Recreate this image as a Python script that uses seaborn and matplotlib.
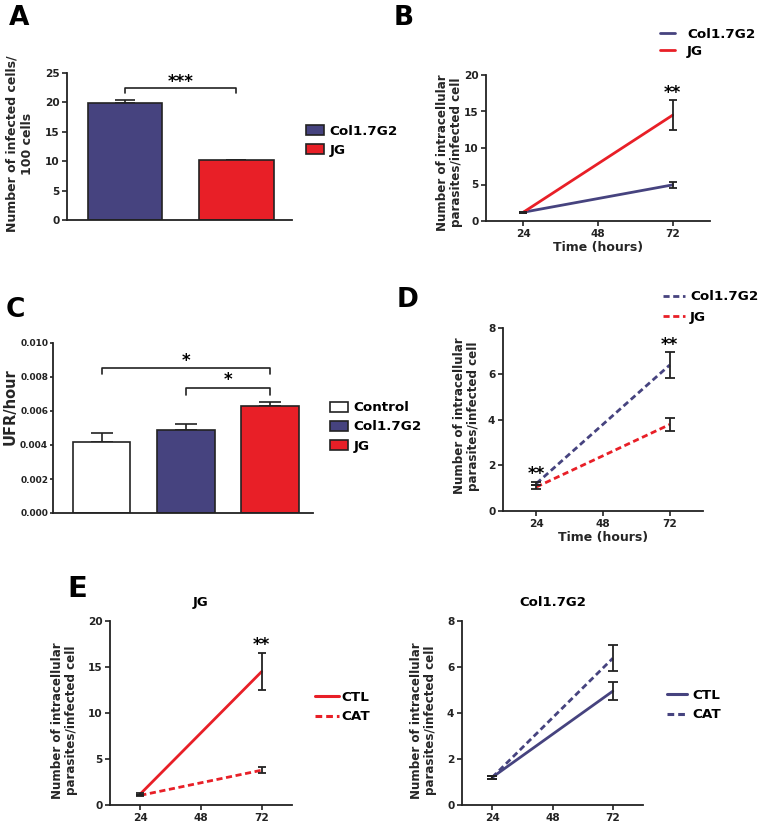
"""
plot.py

Multi-panel figure: infection rate (A), parasite load over time (B, D),
UFR/hour (C) and catalase treatment (E).
"""
import matplotlib
matplotlib.use("Agg")
import matplotlib.pyplot as plt
from matplotlib.patches import Patch
from matplotlib.lines import Line2D
import seaborn as sns
import pandas as pd

# ---- data -------------------------------------------------------------
strains = ["Col1.7G2", "JG"]
infected_cells = [19.85, 10.2]
infected_err = [0.55, 0.08]

ufr_groups = ["Control", "Col1.7G2", "JG"]
ufr_mean = [0.00418, 0.00488, 0.0063]
ufr_err = [0.00052, 0.00034, 0.00022]

hours = [24, 72]
ctl_col = [1.2, 4.95]
ctl_col_err = [0.06, 0.38]
ctl_jg = [1.2, 14.5]
ctl_jg_err = [0.06, 2.05]
cat_col = [1.2, 6.38]
cat_col_err = [0.08, 0.56]
cat_jg = [1.05, 3.78]
cat_jg_err = [0.08, 0.3]

NAVY = "#46437f"
RED = "#e81f27"
DARK = "#222222"
W, H = 760, 826
TICK = 7.6
LEG = 9.7

sns.set_theme(style="ticks")
plt.rcParams["font.family"] = ["DejaVu Sans"]
plt.rcParams["font.weight"] = "bold"
plt.rcParams["axes.labelweight"] = "bold"
plt.rcParams["axes.edgecolor"] = DARK
plt.rcParams["axes.linewidth"] = 1.3
plt.rcParams["xtick.major.width"] = 1.2
plt.rcParams["ytick.major.width"] = 1.2
plt.rcParams["xtick.major.size"] = 3.5
plt.rcParams["ytick.major.size"] = 3.5
plt.rcParams["xtick.color"] = DARK
plt.rcParams["ytick.color"] = DARK
plt.rcParams["text.color"] = "black"

fig = plt.figure(figsize=(W / 100, H / 100), dpi=100)


def px_axes(left, top, right, bottom):
    return fig.add_axes([left / W, 1 - bottom / H, (right - left) / W, (bottom - top) / H])


def style_axes(ax, tick_size=TICK, length=3.5, pad=2):
    sns.despine(ax=ax)
    ax.tick_params(labelsize=tick_size, pad=pad, length=length)
    for lab in ax.get_xticklabels() + ax.get_yticklabels():
        lab.set_fontweight("bold")


def px_legend(handles, labels, x, y, **kw):
    fig.legend(handles, labels, loc="center left", bbox_to_anchor=(x / W, 1 - y / H),
               bbox_transform=fig.transFigure, frameon=False, borderpad=0,
               borderaxespad=0, prop={"size": LEG, "weight": "bold"}, **kw)


def stars(ax, x, y, text):
    ax.text(x, y, text, ha="center", va="baseline", fontsize=12, fontweight="bold",
            clip_on=False)


def bracket(ax, x0, x1, y, drop, star, star_y):
    ax.plot([x0, x0, x1, x1], [y - drop, y, y, y - drop], color=DARK, lw=1.2, clip_on=False)
    stars(ax, (x0 + x1) / 2, star_y, star)


def time_panel(ax, df, palette, dashes, ylim, yticks, err_pairs, cap=3):
    sns.lineplot(data=df, x="time", y="value", hue="hue", style="style", palette=palette,
                 dashes=dashes, linewidth=2.0, legend=False, ax=ax, errorbar=None)
    for vals, errs in err_pairs:
        ax.errorbar(hours, vals, yerr=errs, fmt="none", ecolor=DARK, elinewidth=1.3,
                    capsize=cap, capthick=1.3, zorder=5)
    ax.set_xlim(12, 84)
    ax.set_xticks([24, 48, 72])
    ax.set_ylim(*ylim)
    ax.set_yticks(yticks)
    ax.set_ylabel("Number of intracellular\nparasites/infected cell", fontsize=8.6,
                  multialignment="center", linespacing=1.1)
    ax.set_xlabel("")
    style_axes(ax)


def long_df(series):
    rows = []
    for hue, style, vals in series:
        for t, v in zip(hours, vals):
            rows.append({"time": t, "value": v, "hue": hue, "style": style})
    return pd.DataFrame(rows)


# ---- A: infected cells ------------------------------------------------
axA = px_axes(67, 73, 292, 220)
dfA = pd.DataFrame({"strain": strains, "value": infected_cells})
sns.barplot(data=dfA, x="strain", y="value", hue="strain", palette=[NAVY, RED], saturation=1,
            width=0.67, edgecolor=DARK, linewidth=1.2, legend=False, ax=axA)
axA.errorbar(range(len(strains)), infected_cells, yerr=[[0, 0], infected_err], fmt="none",
             ecolor=DARK, elinewidth=1.2, capsize=7, capthick=1.2, zorder=0)
axA.set_xlim(-0.52, 1.5)
axA.set_ylim(0, 25)
axA.set_yticks([0, 5, 10, 15, 20, 25])
axA.set_xticks([])
axA.set_xlabel("")
axA.set_ylabel("Number of infected cells/\n100 cells", fontsize=9, multialignment="center",
               linespacing=1.25)
axA.yaxis.set_label_coords(-0.147, 0.52)
style_axes(axA)
bracket(axA, 0, 1, 22.4, 0.8, "***", 22.6)
px_legend([Patch(facecolor=c, edgecolor=DARK, lw=1.2) for c in [NAVY, RED]], strains, 306, 141,
          handlelength=1.3, handleheight=0.75, handletextpad=0.45, labelspacing=0.45)

# ---- B: parasites per cell ---------------------------------------------
axB = px_axes(486, 75, 710, 221)
dfB = long_df([("Col1.7G2", "CTL", ctl_col), ("JG", "CTL", ctl_jg)])
time_panel(axB, dfB, {"Col1.7G2": NAVY, "JG": RED}, {"CTL": ""}, (0, 20), [0, 5, 10, 15, 20],
           [(ctl_col, ctl_col_err), (ctl_jg, ctl_jg_err)])
axB.yaxis.set_label_coords(-0.103, 0.47)
axB.set_xlabel("Time (hours)", fontsize=9, labelpad=2)
stars(axB, 72, 16.8, "**")
px_legend([Line2D([], [], color=c, lw=2.0) for c in [NAVY, RED]], strains, 660, 43,
          handlelength=1.1, handletextpad=0.9, labelspacing=0.3)

# ---- C: UFR/hour -------------------------------------------------------
axC = px_axes(53, 343, 313, 513)
dfC = pd.DataFrame({"group": ufr_groups, "value": ufr_mean})
sns.barplot(data=dfC, x="group", y="value", hue="group", palette=["white", NAVY, RED],
            saturation=1, width=0.68, edgecolor=DARK, linewidth=1.2, legend=False, ax=axC)
axC.errorbar(range(len(ufr_groups)), ufr_mean, yerr=[[0, 0, 0], ufr_err], fmt="none",
             ecolor=DARK, elinewidth=1.2, capsize=8, capthick=1.2, zorder=0)
axC.set_xlim(-0.58, 2.51)
axC.set_ylim(0, 0.010)
ufr_ticks = [0.0, 0.002, 0.004, 0.006, 0.008, 0.010]
axC.set_yticks(ufr_ticks)
axC.set_yticklabels([f"{v:.3f}" for v in ufr_ticks])
axC.set_xticks([])
axC.set_xlabel("")
axC.set_ylabel("UFR/hour", fontsize=10.5)
axC.yaxis.set_label_coords(-0.1365, 0.626)
style_axes(axC, tick_size=6.5, length=2.5, pad=1)
bracket(axC, 0, 2, 0.0085, 0.00035, "*", 0.00862)
bracket(axC, 1, 2, 0.00735, 0.0004, "*", 0.0075)
px_legend([Patch(facecolor=c, edgecolor=DARK, lw=1.2) for c in ["white", NAVY, RED]], ufr_groups,
          330, 427, handlelength=1.3, handleheight=0.75, handletextpad=0.45, labelspacing=0.45)

# ---- D: parasites per cell, dashed --------------------------------------
axD = px_axes(503, 328, 703, 511)
dfD = long_df([("Col1.7G2", "CAT", cat_col), ("JG", "CAT", cat_jg)])
time_panel(axD, dfD, {"Col1.7G2": NAVY, "JG": RED}, {"CAT": (2.2, 1.3)}, (0, 8), [0, 2, 4, 6, 8],
           [(cat_col, cat_col_err), (cat_jg, cat_jg_err)], cap=3.5)
axD.yaxis.set_label_coords(-0.115, 0.52)
axD.set_xlabel("Time (hours)", fontsize=9, labelpad=2)
stars(axD, 24, 1.4, "**")
stars(axD, 72, 7.05, "**")
px_legend([Line2D([], [], color=c, lw=2.0, dashes=(2.2, 1.3)) for c in [NAVY, RED]], strains,
          663, 307, handlelength=1.6, handletextpad=0.4, labelspacing=0.55)

# ---- E: catalase treatment ------------------------------------------------
axE1 = px_axes(110, 621, 292, 805)
dfE1 = long_df([("JG", "CTL", ctl_jg), ("JG", "CAT", cat_jg)])
time_panel(axE1, dfE1, {"JG": RED}, {"CTL": "", "CAT": (2.2, 1.3)}, (0, 20), [0, 5, 10, 15, 20],
           [(ctl_jg, ctl_jg_err), (cat_jg, cat_jg_err)])
axE1.yaxis.set_label_coords(-0.176, 0.46)
axE1.set_title("JG", fontsize=9.5, fontweight="bold", pad=11)
stars(axE1, 72, 16.8, "**")
px_legend([Line2D([], [], color=RED, lw=2.2), Line2D([], [], color=RED, lw=2.2, dashes=(2.2, 1.3))],
          ["CTL", "CAT"], 315, 707, handlelength=1.75, handletextpad=0.2, labelspacing=0.5)

axE2 = px_axes(462, 621, 643, 805)
dfE2 = long_df([("Col1.7G2", "CTL", ctl_col), ("Col1.7G2", "CAT", cat_col)])
time_panel(axE2, dfE2, {"Col1.7G2": NAVY}, {"CTL": "", "CAT": (2.2, 1.3)}, (0, 8), [0, 2, 4, 6, 8],
           [(ctl_col, ctl_col_err), (cat_col, cat_col_err)], cap=3.5)
axE2.yaxis.set_label_coords(-0.138, 0.46)
axE2.set_title("Col1.7G2", fontsize=9.5, fontweight="bold", pad=11)
px_legend([Line2D([], [], color=NAVY, lw=2.2), Line2D([], [], color=NAVY, lw=2.2, dashes=(2.2, 1.3))],
          ["CTL", "CAT"], 667, 705, handlelength=1.5, handletextpad=0.35, labelspacing=0.5)

# ---- panel letters ------------------------------------------------------
for letter, x, y, size in [("A", 9, 25, 19), ("B", 394, 25, 19), ("C", 6, 317, 19),
                           ("D", 397, 307, 19), ("E", 67, 597, 21)]:
    fig.text(x / W, 1 - y / H, letter, fontsize=size, fontweight="bold", va="baseline")

fig.savefig("out.png", dpi=100)
plt.close(fig)
